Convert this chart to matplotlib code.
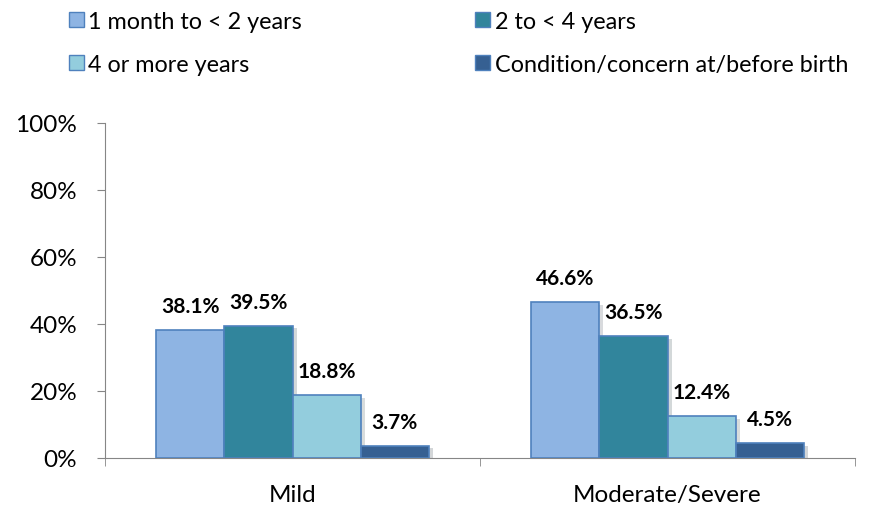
import numpy as np
import matplotlib
matplotlib.use("Agg")
from matplotlib import pyplot as plt
from matplotlib import patheffects as pe
from matplotlib.patches import Patch

plt.rcParams["font.family"] = ["Lato", "DejaVu Sans"]

categories = ["Mild", "Moderate/Severe"]
series = ["1 month to < 2 years", "2 to < 4 years", "4 or more years",
          "Condition/concern at/before birth"]
values = [
    [38.1, 46.6],
    [39.5, 36.5],
    [18.8, 12.4],
    [3.7, 4.5],
]
colors = ["#8EB4E3", "#31859C", "#93CDDD", "#366092"]

fig = plt.figure(figsize=(8.9, 5.1), dpi=100)
ax = fig.add_axes([105 / 890, 51 / 510, 750 / 890, 335 / 510])

x = np.arange(len(categories))
w = 0.182
for i, (name, vals) in enumerate(zip(series, values)):
    pos = x + (i - 1.5) * w
    bars = ax.bar(pos, vals, w, color=colors[i], edgecolor="#4F81BD", linewidth=1.2,
                  label=name, zorder=3)
    for b in bars:
        b.set_path_effects([pe.SimplePatchShadow(offset=(3, -2), alpha=0.18), pe.Normal()])
    for p, v in zip(pos, vals):
        ax.annotate("{:.1f}%".format(v), (p, v), xytext=(0, 13), textcoords="offset points",
                    ha="center", va="baseline", fontsize=15, fontweight="bold", zorder=4)

ax.set_xlim(-0.5, 1.5)
ax.set_ylim(0, 100)
ax.set_yticks(range(0, 101, 20))
ax.set_yticklabels(["{}%".format(t) for t in range(0, 101, 20)], fontsize=17.5)
ax.set_xticks(x)
ax.set_xticklabels(categories, fontsize=17.5)
ax.tick_params(axis="x", length=0, pad=19)
ax.set_xticks([-0.5, 0.5, 1.5], minor=True)
ax.tick_params(axis="x", which="minor", length=6, color="#868686")
ax.tick_params(axis="y", length=6, color="#868686", pad=14)
for s in ["top", "right"]:
    ax.spines[s].set_visible(False)
for s in ["left", "bottom"]:
    ax.spines[s].set_color("#868686")

handles = [Patch(facecolor=c, edgecolor="#4F81BD", label=n) for c, n in zip(colors, series)]
order = [0, 2, 1, 3]
fig.legend(handles=[handles[k] for k in order], loc="upper left",
           bbox_to_anchor=(57 / 890, 1.0), ncol=2, borderaxespad=0.1,
           frameon=False, fontsize=16.8, handlelength=0.65, handleheight=0.65,
           handletextpad=0.2, columnspacing=7.4, labelspacing=0.95)

fig.savefig("out.png", dpi=100)
